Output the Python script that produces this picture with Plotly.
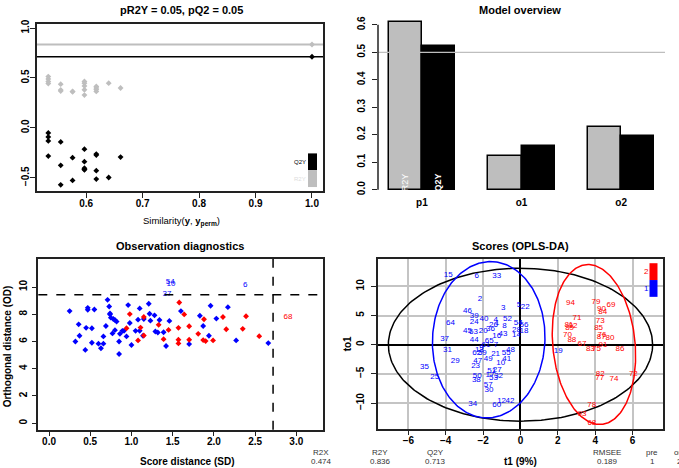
import numpy as np
import plotly.graph_objects as go

W, H = 679, 468
FONT = "Liberation Sans, Arial, Helvetica, sans-serif"

# ---------------- Permutation panel ----------------
perm_sim = [0.533, 0.533, 0.533, 0.533, 0.555, 0.555, 0.555, 0.576, 0.576,
            0.597, 0.597, 0.597, 0.597, 0.597, 0.618, 0.618, 0.618, 0.618,
            0.640, 0.661, 1.0]
perm_r2y = [0.514, 0.491, 0.465, 0.445, 0.438, 0.380, 0.370, 0.366, 0.362,
            0.465, 0.448, 0.421, 0.382, 0.329, 0.415, 0.401, 0.385, 0.366,
            0.448, 0.400, 0.836]
perm_q2y = [-0.050, -0.090, -0.130, -0.282, -0.140, -0.375, -0.570, -0.298, -0.526,
            -0.213, -0.338, -0.404, -0.414, -0.420, -0.262, -0.272, -0.428, -0.513,
            -0.497, -0.292, 0.713]
model_r2y = 0.836
model_q2y = 0.713

# ---------------- Model overview ----------------
comp_names = ["p1", "o1", "o2"]
comp_r2y = [0.612, 0.122, 0.228]
comp_q2y = [0.522, 0.158, 0.196]

# ---------------- Observation diagnostics ----------------
sd_blue = [0.25, 0.32, 0.36, 0.37, 0.44, 0.45, 0.47, 0.47, 0.52, 0.52, 0.55, 0.60, 0.63,
           0.66, 0.66, 0.69, 0.71, 0.73, 0.74, 0.74, 0.75, 0.78, 0.80, 0.82, 0.80, 0.77,
           0.86, 0.85, 0.85, 0.89, 0.91, 0.94, 0.96, 0.98, 1.00, 1.05, 1.08, 1.10, 1.10,
           1.14, 1.15, 1.21, 1.22, 1.23, 1.28, 1.29, 1.32, 1.34, 1.39, 1.42, 1.46, 1.60,
           1.70, 1.83, 1.87, 1.94, 1.96, 2.03, 2.17, 2.27, 2.66]
od_blue = [8.23, 6.00, 7.26, 6.42, 5.38, 7.00, 8.47, 8.33, 6.97, 5.91, 8.35, 5.84, 5.50,
           5.84, 6.37, 7.14, 9.06, 8.57, 8.06, 7.99, 7.75, 7.65, 7.58, 7.46, 6.83, 6.59,
           6.56, 6.00, 5.08, 6.78, 6.78, 6.37, 8.67, 7.36, 5.74, 6.78, 7.60, 6.78, 8.43,
           6.42, 7.65, 8.77, 8.04, 7.53, 7.92, 6.73, 6.66, 7.58, 6.68, 5.67, 7.51, 8.23,
           5.81, 7.89, 7.14, 6.42, 8.62, 7.68, 8.52, 6.08, 5.88]
sd_red = [0.94, 0.98, 1.08, 1.11, 1.15, 1.15, 1.33, 1.39, 1.45, 1.58, 1.57, 1.57, 1.57,
          1.64, 1.70, 1.70, 1.81, 1.87, 1.88, 1.90, 1.99, 2.11, 2.15, 2.35, 2.39, 2.55]
od_red = [6.97, 8.01, 6.08, 7.02, 7.80, 6.44, 7.22, 6.17, 6.85, 8.86, 7.00, 6.13, 5.86,
          7.99, 7.12, 6.13, 6.56, 6.10, 7.63, 6.03, 6.08, 7.80, 6.90, 6.93, 7.85, 6.39]
out_blue_names = ["54", "10", "37", "6"]
out_blue_sd = [1.47, 1.48, 1.43, 2.38]
out_blue_od = [10.35, 10.20, 9.45, 10.12]
out_red_names = ["68"]
out_red_sd = [2.90]
out_red_od = [7.80]
sd_limit = 2.718
od_limit = 9.44

# ---------------- Scores (OPLS-DA) ----------------
names_1 = ["15", "6", "33", "2", "3", "5", "22", "46", "39", "40", "24", "64", "52", "4",
           "1", "26", "36", "8", "54", "56", "45", "63", "20", "28", "18", "43", "16",
           "14", "37", "44", "65", "7", "61", "9", "13", "62", "59", "31", "21", "55",
           "48", "41", "49", "35", "29", "47", "23", "10", "25", "51", "27", "17", "53",
           "32", "50", "38", "57", "30", "34", "60", "12", "42", "19"]
t1_1 = [-3.86, -2.34, -1.27, -2.17, -0.92, -0.08, 0.26, -2.84, -2.47, -1.95, -2.47, -3.74,
        -0.70, -1.33, -1.24, -1.44, -1.60, -0.86, -0.12, 0.19, -2.84, -2.52, -1.99, -0.21,
        0.19, -0.94, -1.27, -0.21, -4.06, -2.47, -1.67, -1.31, -1.85, -2.08, -2.20, -2.34,
        -2.04, -3.91, -1.33, -0.76, -0.53, -0.74, -1.72, -5.14, -3.49, -2.29, -2.40, -1.06,
        -4.59, -1.54, -1.24, -1.63, -1.44, -1.17, -2.31, -2.36, -1.72, -1.68, -2.56, -1.27,
        -1.01, -0.56, 2.02]
to1_1 = [11.98, 11.70, 11.70, 7.91, 6.22, 6.78, 6.38, 5.76, 4.92, 4.41, 3.96, 3.79, 4.35,
         4.18, 3.79, 3.45, 2.66, 3.16, 3.79, 3.33, 2.43, 2.20, 2.26, 2.54, 2.37, 1.86, 1.41,
         1.70, 0.96, 0.85, 0.68, -0.06, -0.11, -0.57, -0.96, -1.47, -1.47, -0.85, -1.58,
         -1.41, -0.85, -2.37, -2.43, -3.79, -2.83, -2.83, -3.73, -3.11, -5.54, -4.52, -4.41,
         -5.20, -5.65, -5.37, -5.43, -5.99, -6.90, -7.80, -10.17, -10.28, -9.61, -9.61, -1.02]
names_2 = ["94", "79", "69", "90", "84", "71", "73", "81", "92", "89", "85", "70", "76",
           "87", "80", "88", "67", "91", "83", "75", "86", "72", "82", "77", "74", "78",
           "93", "68"]
t1_2 = [2.68, 4.04, 4.84, 4.34, 4.40, 3.02, 4.27, 2.59, 2.81, 2.63, 4.18, 2.51, 4.36, 4.32,
        4.79, 2.75, 3.29, 4.41, 3.74, 4.07, 5.32, 6.04, 4.27, 4.24, 5.00, 3.81, 3.29, 3.82]
to1_2 = [7.18, 7.29, 6.84, 6.05, 5.54, 4.63, 4.12, 3.39, 3.16, 2.83, 2.83, 1.64, 1.70, 1.30,
         1.07, 0.85, 0.17, 0.00, -0.73, -0.68, -0.68, -4.97, -5.03, -5.76, -5.93, -10.34,
         -11.81, -13.39]
# ellipses: center x, center y, semi-axis x, shear, semi-axis y
ell_all = [0.0, 0.0, 7.07, 0.0, 13.1]
ell_1 = [-1.70, 0.85, 3.01, 0.10, 13.39]
ell_2 = [3.93, 0.03, 2.21, -0.31, 13.70]

summary_names = ["R2X", "R2Y", "Q2Y", "RMSEE", "pre", "ort"]
summary_vals = ["0.474", "0.836", "0.713", "0.189", "1", "2"]

GREY = "#BEBEBE"
BLUE = "#0000FF"
RED = "#FF0000"


def fx(p):
    return p / W


def fy(p):
    return 1 - p / H


def dom_x(a, b):
    return [fx(a), fx(b)]


def dom_y(top, bottom):
    return [fy(bottom), fy(top)]


TICKFONT = dict(family=FONT, size=10, color="black", weight="bold")


def axis(domain, rng, anchor, box=True, **kw):
    d = dict(domain=domain, range=rng, anchor=anchor, showline=box, mirror=box,
             linecolor="#222", linewidth=1.5, ticks="outside", ticklen=5, tickwidth=1,
             tickcolor="#222", showgrid=False, zeroline=False, tickfont=TICKFONT,
             ticklabelstandoff=3)
    d.update(kw)
    return d


MS = 4.5
fig = go.Figure()

# Panel 1: permutation
fig.add_trace(go.Scatter(x=perm_sim, y=perm_r2y, mode="markers",
                         marker=dict(symbol="diamond", size=MS, color=GREY),
                         xaxis="x", yaxis="y", showlegend=False))
fig.add_trace(go.Scatter(x=perm_sim, y=perm_q2y, mode="markers",
                         marker=dict(symbol="diamond", size=MS, color="black"),
                         xaxis="x", yaxis="y", showlegend=False))

# Panel 2: model overview
r2_x = [1.5 + 3 * i for i in range(len(comp_names))]
q2_x = [2.5 + 3 * i for i in range(len(comp_names))]
fig.add_trace(go.Bar(x=r2_x, y=comp_r2y, width=1, marker=dict(color=GREY, line=dict(color="black", width=1.5)),
                     xaxis="x2", yaxis="y2", showlegend=False))
fig.add_trace(go.Bar(x=q2_x, y=comp_q2y, width=1, marker=dict(color="black", line=dict(color="black", width=1.5)),
                     xaxis="x2", yaxis="y2", showlegend=False))

# Panel 3: diagnostics
fig.add_trace(go.Scatter(x=sd_blue, y=od_blue, mode="markers",
                         marker=dict(symbol="diamond", size=MS, color=BLUE),
                         xaxis="x3", yaxis="y3", showlegend=False))
fig.add_trace(go.Scatter(x=sd_red, y=od_red, mode="markers",
                         marker=dict(symbol="diamond", size=MS, color=RED),
                         xaxis="x3", yaxis="y3", showlegend=False))
fig.add_trace(go.Scatter(x=out_blue_sd, y=out_blue_od, mode="text", text=out_blue_names,
                         textfont=dict(family=FONT, size=8, color=BLUE),
                         xaxis="x3", yaxis="y3", showlegend=False))
fig.add_trace(go.Scatter(x=out_red_sd, y=out_red_od, mode="text", text=out_red_names,
                         textfont=dict(family=FONT, size=8, color=RED),
                         xaxis="x3", yaxis="y3", showlegend=False))

# Panel 4: scores
t = np.linspace(0, 2 * np.pi, 241)
for e, col in [(ell_all, "black"), (ell_1, BLUE), (ell_2, RED)]:
    cx, cy, a, c, b = e
    fig.add_trace(go.Scatter(x=cx + a * np.cos(t) + c * np.sin(t), y=cy + b * np.sin(t),
                             mode="lines", line=dict(color=col, width=1.5),
                             xaxis="x4", yaxis="y4", showlegend=False, hoverinfo="skip"))
fig.add_trace(go.Scatter(x=t1_1, y=to1_1, mode="text", text=names_1,
                         textfont=dict(family=FONT, size=8, color=BLUE),
                         xaxis="x4", yaxis="y4", showlegend=False))
fig.add_trace(go.Scatter(x=t1_2, y=to1_2, mode="text", text=names_2,
                         textfont=dict(family=FONT, size=8, color=RED),
                         xaxis="x4", yaxis="y4", showlegend=False))

shapes = []
# permutation reference lines
shapes.append(dict(type="line", xref="x domain", x0=0, x1=1, yref="y", y0=model_r2y, y1=model_r2y,
                   line=dict(color=GREY, width=2)))
shapes.append(dict(type="line", xref="x domain", x0=0, x1=1, yref="y", y0=model_q2y, y1=model_q2y,
                   line=dict(color="black", width=1.5)))
# permutation legend
shapes.append(dict(type="rect", xref="paper", yref="paper", x0=fx(308), x1=fx(317), y0=fy(167), y1=fy(150),
                   fillcolor="black", line=dict(width=0)))
shapes.append(dict(type="rect", xref="paper", yref="paper", x0=fx(308), x1=fx(317), y0=fy(184), y1=fy(167),
                   fillcolor=GREY, line=dict(width=0)))
# model overview: 0.5 line and y axis line
shapes.append(dict(type="line", xref="x2 domain", x0=0, x1=1, yref="y2", y0=0.5, y1=0.5,
                   line=dict(color=GREY, width=1.2)))
shapes.append(dict(type="line", xref="x2 domain", x0=0, x1=0, yref="y2", y0=0, y1=0.6,
                   line=dict(color="#222", width=1.5)))
# diagnostics thresholds
shapes.append(dict(type="line", xref="x3", x0=sd_limit, x1=sd_limit, yref="y3 domain", y0=0, y1=1,
                   line=dict(color="black", width=1.5, dash="dash")))
shapes.append(dict(type="line", xref="x3 domain", x0=0, x1=1, yref="y3", y0=od_limit, y1=od_limit,
                   line=dict(color="black", width=1.5, dash="dash")))
# scores legend
shapes.append(dict(type="rect", xref="paper", yref="paper", x0=fx(649.5), x1=fx(657.5), y0=fy(278), y1=fy(261),
                   fillcolor=RED, line=dict(width=0), layer="above"))
shapes.append(dict(type="rect", xref="paper", yref="paper", x0=fx(649.5), x1=fx(657.5), y0=fy(295), y1=fy(278),
                   fillcolor=BLUE, line=dict(width=0), layer="above"))

ann = []


def text(x, y, s, size=10, bold=False, color="black", angle=0, xanchor="center"):
    ann.append(dict(x=fx(x), y=fy(y), xref="paper", yref="paper", text=s, showarrow=False,
                    font=dict(family=FONT, size=size, color=color, weight="bold" if bold else "normal"),
                    textangle=angle, xanchor=xanchor, yanchor="middle"))


text(181, 5, "pR2Y = 0.05, pQ2 = 0.05", size=11, bold=True)
text(520, 5, "Model overview", size=11, bold=True)
text(180, 244, "Observation diagnostics", size=11, bold=True)
text(520, 244, "Scores (OPLS-DA)", size=11, bold=True)
text(181, 219, "Similarity(<b>y</b>, <b>y</b><sub><b>perm</b></sub>)", size=9.5)
text(308, 159, "Q2Y", size=6, xanchor="right")
text(308, 176, "R2Y", size=6, color="#DDDDDD", xanchor="right")
text(187, 461, "Score distance (SD)", size=10, bold=True)
text(7, 345, "Orthogonal distance (OD)", size=10, bold=True, angle=-90)
text(520, 461, "t1 (9%)", size=10, bold=True)
text(347, 343, "to1", size=10, bold=True, angle=-90)
text(651, 269, "2", size=8, color=RED, xanchor="right")
text(651, 287, "1", size=8, color=BLUE, xanchor="right")
for nm, v, xp in zip(summary_names, summary_vals, [321, 380, 435, 607, 652, 679]):
    text(xp, 452.5, nm, size=8, color="#333")
    text(xp, 461, v, size=8, color="#333")
# R2Y / Q2Y inside p1 bars
ann.append(dict(x=r2_x[0], y=0.028, xref="x2", yref="y2", text="R2Y", showarrow=False, textangle=-90,
                font=dict(family=FONT, size=9, color="white"), xanchor="center", yanchor="middle"))
ann.append(dict(x=q2_x[0], y=0.028, xref="x2", yref="y2", text="Q2Y", showarrow=False, textangle=-90,
                font=dict(family=FONT, size=9, color="white", weight="bold"), xanchor="center", yanchor="middle"))

fig.update_layout(
    width=W, height=H, margin=dict(l=0, r=0, t=0, b=0),
    paper_bgcolor="white", plot_bgcolor="white", showlegend=False, bargap=0,
    shapes=shapes, annotations=ann,
    xaxis=axis(dom_x(37, 323), [0.513, 1.0195], "y", ticklabelstandoff=-3,
               tickvals=[0.6, 0.7, 0.8, 0.9, 1.0], ticktext=["0.6", "0.7", "0.8", "0.9", "1.0"]),
    yaxis=axis(dom_y(19, 188), [-0.632, 1.043], "x", tickangle=-90, ticklabelstandoff=-3,
               tickvals=[-0.5, 0, 0.5, 1.0], ticktext=["\u22120.5", "0.0", "0.5", "1.0"]),
    xaxis2=axis(dom_x(378, 665), [0.68, 9.32], "y2", box=False, ticks="",
                tickvals=[2, 5, 8], ticktext=comp_names, ticklabelstandoff=-1),
    yaxis2=axis(dom_y(10.0, 193.4), [-0.024, 0.636], "x2", box=False, tickangle=-90,
                tickvals=[0, 0.1, 0.2, 0.3, 0.4, 0.5, 0.6],
                ticktext=["0.0", "0.1", "0.2", "0.3", "0.4", "0.5", "0.6"]),
    xaxis3=axis(dom_x(38.3, 322.7), [-0.13, 3.32], "y3", ticklabelstandoff=-3,
                tickvals=[0, 0.5, 1, 1.5, 2, 2.5, 3],
                ticktext=["0.0", "0.5", "1.0", "1.5", "2.0", "2.5", "3.0"]),
    yaxis3=axis(dom_y(256.7, 429.3), [-0.48, 12.06], "x3", tickangle=-90, ticklabelstandoff=1,
                tickvals=[0, 2, 4, 6, 8, 10]),
    xaxis4=axis(dom_x(377.7, 662.7), [-7.64, 7.61], "y4", ticklabelstandoff=-3,
                tickvals=[-6, -4, -2, 0, 2, 4, 6], showgrid=True, gridcolor="#C4C4C4", gridwidth=1.5,
                zeroline=True, zerolinecolor="black", zerolinewidth=1.5),
    yaxis4=axis(dom_y(256.7, 428.3), [-14.4, 14.69], "x4", tickangle=-90,
                tickvals=[-10, -5, 0, 5, 10], showgrid=True, gridcolor="#C4C4C4", gridwidth=1.5,
                zeroline=True, zerolinecolor="black", zerolinewidth=1.5),
)

fig.write_html("out.html", config={"displayModeBar": False},
               post_script="document.body.style.margin='0';")
